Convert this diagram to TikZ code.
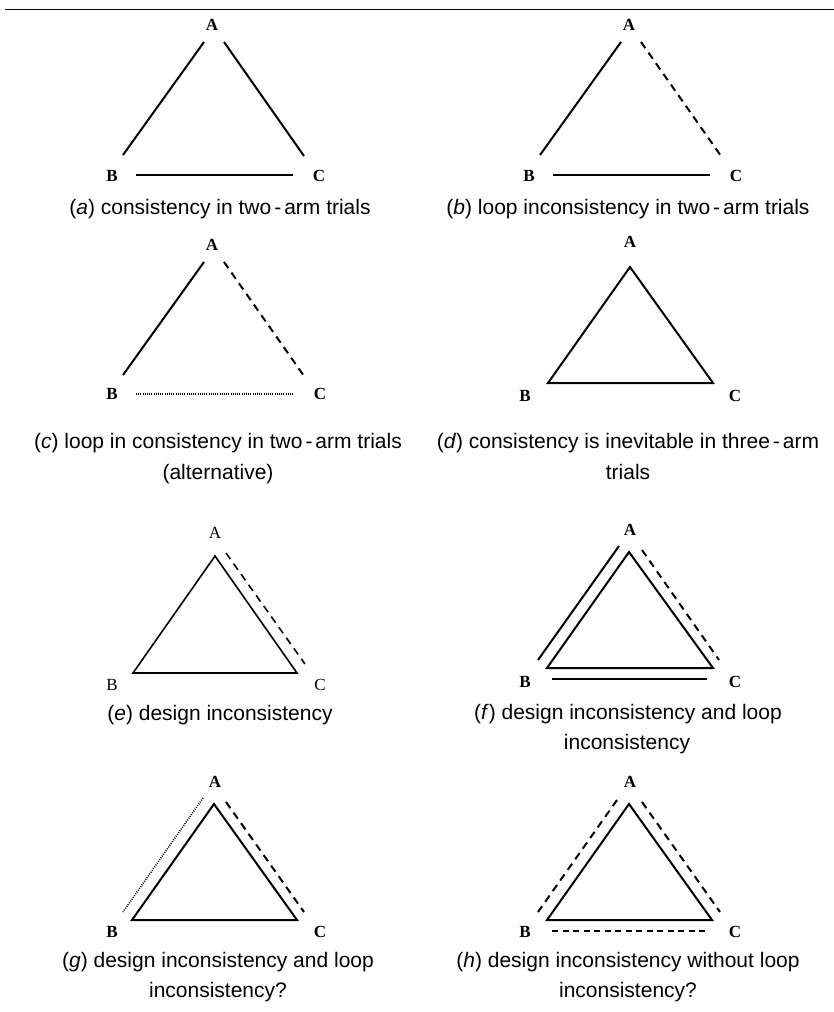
\documentclass[tikz,border=0pt]{standalone}
\usepackage{fontspec}
\setmainfont{Liberation Serif}
\setsansfont{Liberation Sans}
\begin{document}
\begin{tikzpicture}[x=1pt,y=-1pt,
  lbl/.style={font=\fontsize{17}{17}\selectfont\bfseries, inner sep=0pt},
  lbllight/.style={font=\fontsize{17}{17}\selectfont, inner sep=0pt},
  captxt/.style={font=\fontsize{21}{31}\selectfont\sffamily, inner sep=0pt, anchor=base},
  edge/.style={line width=2pt},
  dashedge/.style={line width=2pt, dash pattern=on 7.5pt off 5.5pt},
  dotedge/.style={line width=1.6pt, dash pattern=on 0.9pt off 1.3pt},
  rule/.style={line width=1pt}]
\useasboundingbox (0,0) rectangle (834,1012);
% top rule
\coordinate (r1) at (5,9);
\coordinate (r2) at (834,9);
\draw[rule] (r1) -- (r2);
\newcommand{\tw}{two\kern3pt-\kern3pt arm}
% ---------- (a)
\node[lbl] (aA) at (212,25) {A};
\node[lbl] (aB) at (112,176) {B};
\node[lbl] (aC) at (319,176) {C};
\coordinate (a1) at (204,42); \coordinate (a2) at (123,155);
\coordinate (a3) at (224,42); \coordinate (a4) at (304,156);
\coordinate (a5) at (136,175); \coordinate (a6) at (293,175);
\draw[edge] (a1) -- (a2);
\draw[edge] (a3) -- (a4);
\draw[edge] (a5) -- (a6);
\node[captxt] (acap) at (220,214) {(\textit{a}) consistency in \tw{} trials};
% ---------- (b)
\node[lbl] (bA) at (629,25) {A};
\node[lbl] (bB) at (529,176) {B};
\node[lbl] (bC) at (736,176) {C};
\coordinate (b1) at (621,42); \coordinate (b2) at (540,155);
\coordinate (b3) at (641,42); \coordinate (b4) at (721,156);
\coordinate (b5) at (553,175); \coordinate (b6) at (710,175);
\draw[edge] (b1) -- (b2);
\draw[dashedge] (b3) -- (b4);
\draw[edge] (b5) -- (b6);
\node[captxt] (bcap) at (628,214) {(\textit{b}) loop inconsistency in \tw{} trials};
% ---------- (c)
\node[lbl] (cA) at (212,245) {A};
\node[lbl] (cB) at (112,394) {B};
\node[lbl] (cC) at (320,394) {C};
\coordinate (c1) at (204,262); \coordinate (c2) at (123,375);
\coordinate (c3) at (224,262); \coordinate (c4) at (304,376);
\coordinate (c5) at (136,394); \coordinate (c6) at (293,394);
\draw[edge] (c1) -- (c2);
\draw[dashedge] (c3) -- (c4);
\draw[dotedge] (c5) -- (c6);
\node[captxt] (ccap1) at (218,448) {(\textit{c}) loop in consistency in \tw{} trials};
\node[captxt] (ccap2) at (218,479) {(alternative)};
% ---------- (d)
\node[lbl] (dA) at (630,242) {A};
\node[lbl] (dB) at (525,396) {B};
\node[lbl] (dC) at (735,396) {C};
\coordinate (d1) at (630,267); \coordinate (d2) at (548,383); \coordinate (d3) at (713,383);
\draw[edge] (d1) -- (d2) -- (d3) -- cycle;
\node[captxt] (dcap1) at (628,448) {(\textit{d}) consistency is inevitable in three\kern3pt-\kern3pt arm};
\node[captxt] (dcap2) at (628,479) {trials};
% ---------- (e)
\node[lbllight] (eA) at (215,533) {A};
\node[lbllight] (eB) at (112,685) {B};
\node[lbllight] (eC) at (320,685) {C};
\coordinate (e1) at (215,556); \coordinate (e2) at (133,673); \coordinate (e3) at (297,673);
\draw[edge, line width=1.6pt] (e1) -- (e2) -- (e3) -- cycle;
\coordinate (e4) at (226,553); \coordinate (e5) at (305,664);
\draw[dashedge, line width=1.6pt] (e4) -- (e5);
\node[captxt] (ecap) at (220,720) {(\textit{e}) design inconsistency};
% ---------- (f)
\node[lbl] (fA) at (630,530) {A};
\node[lbl] (fB) at (525,682) {B};
\node[lbl] (fC) at (735,682) {C};
\coordinate (f1) at (629,552); \coordinate (f2) at (547,668); \coordinate (f3) at (713,668);
\draw[edge] (f1) -- (f2) -- (f3) -- cycle;
\coordinate (f4) at (619,546); \coordinate (f5) at (538,660);
\coordinate (f6) at (642,550); \coordinate (f7) at (719,660);
\coordinate (f8) at (552,679); \coordinate (f9) at (707,679);
\draw[edge] (f4) -- (f5);
\draw[dashedge] (f6) -- (f7);
\draw[edge] (f8) -- (f9);
\node[captxt] (fcap1) at (628,719) {(\textit{f}) design inconsistency and loop};
\node[captxt] (fcap2) at (627,749) {inconsistency};
% ---------- (g)
\node[lbl] (gA) at (215,782) {A};
\node[lbl] (gB) at (112,932) {B};
\node[lbl] (gC) at (320,932) {C};
\coordinate (g1) at (214,804); \coordinate (g2) at (132,920); \coordinate (g3) at (297,920);
\draw[edge] (g1) -- (g2) -- (g3) -- cycle;
\coordinate (g4) at (203,798); \coordinate (g5) at (123,912);
\coordinate (g6) at (226,802); \coordinate (g7) at (304,912);
\draw[dotedge] (g4) -- (g5);
\draw[dashedge] (g6) -- (g7);
\node[captxt] (gcap1) at (218,967) {(\textit{g}) design inconsistency and loop};
\node[captxt] (gcap2) at (218,997) {inconsistency?};
% ---------- (h)
\node[lbl] (hA) at (630,782) {A};
\node[lbl] (hB) at (525,932) {B};
\node[lbl] (hC) at (735,932) {C};
\coordinate (h1) at (629,804); \coordinate (h2) at (547,920); \coordinate (h3) at (712,920);
\draw[edge] (h1) -- (h2) -- (h3) -- cycle;
\coordinate (h4) at (617,800); \coordinate (h5) at (538,912);
\coordinate (h6) at (642,802); \coordinate (h7) at (720,912);
\coordinate (h8) at (552,931); \coordinate (h9) at (708,931);
\draw[dashedge] (h4) -- (h5);
\draw[dashedge] (h6) -- (h7);
\draw[dashedge, dash pattern=on 6pt off 4.5pt] (h8) -- (h9);
\node[captxt] (hcap1) at (628,967) {(\textit{h}) design inconsistency without loop};
\node[captxt] (hcap2) at (628,997) {inconsistency?};
\end{tikzpicture}
\end{document}
